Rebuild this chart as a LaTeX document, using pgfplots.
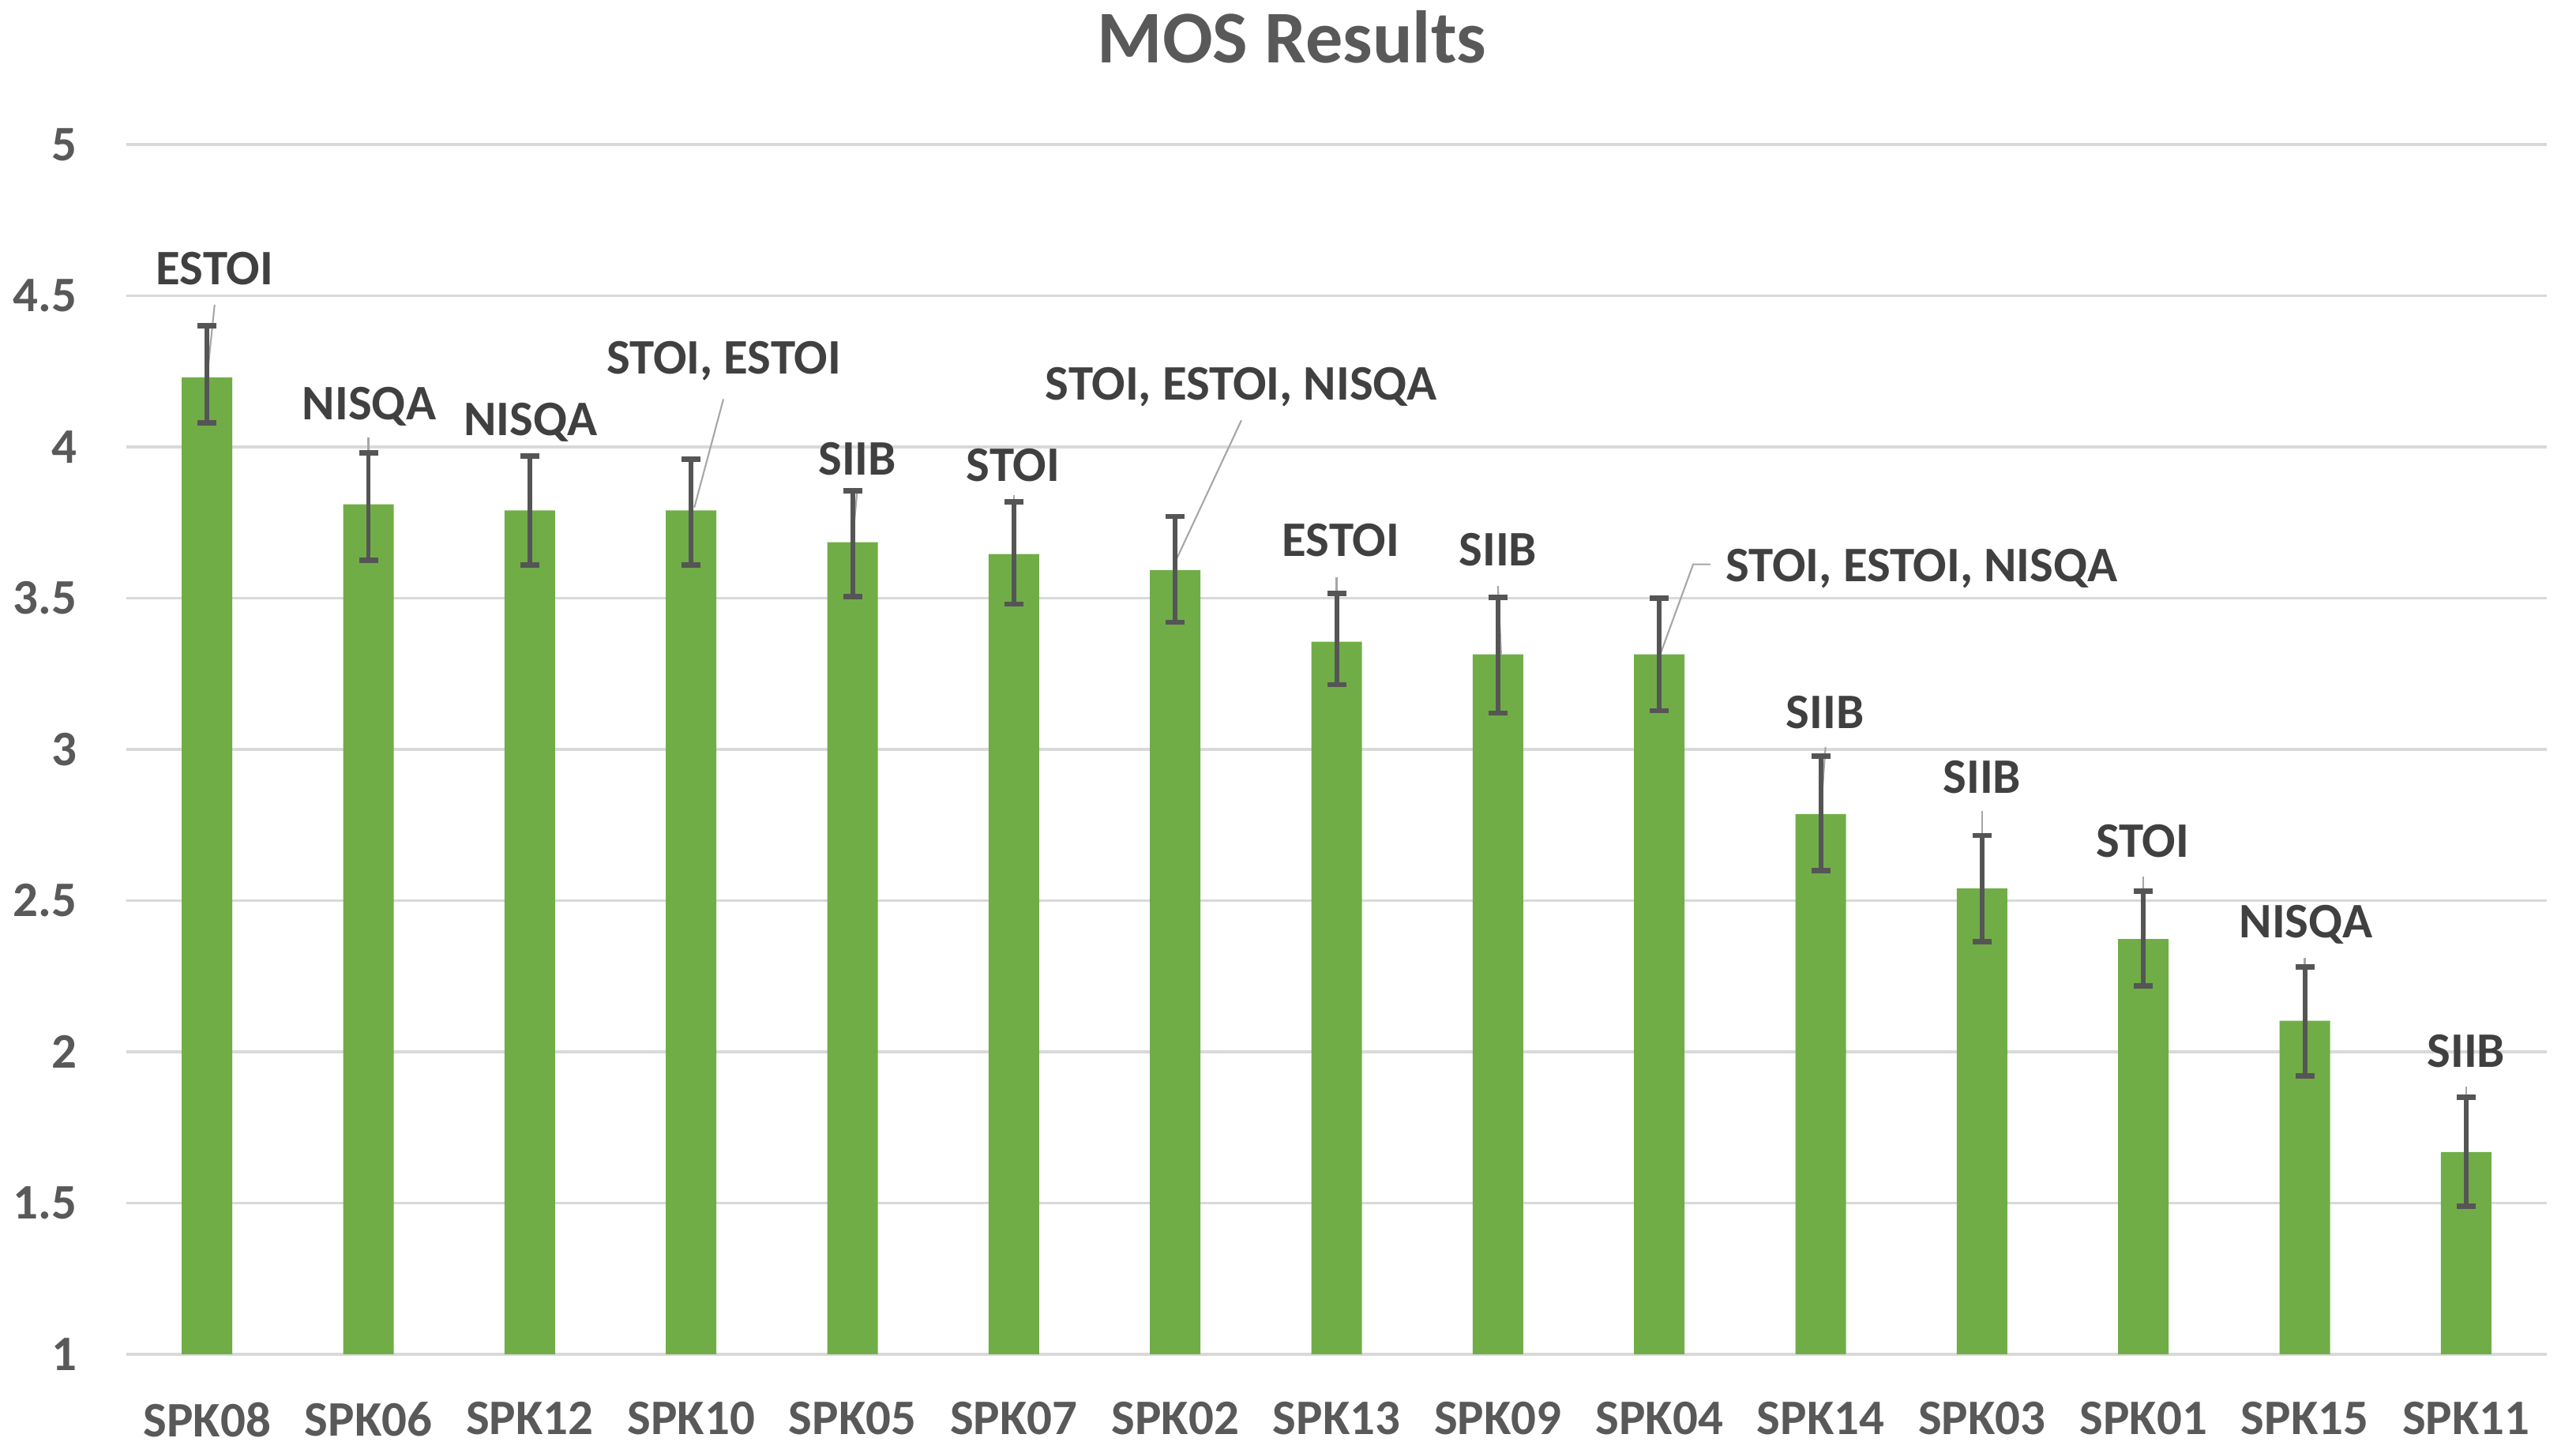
\documentclass[border=0pt]{standalone}
\usepackage{fontspec}
\setmainfont{Carlito}
\usepackage{pgfplots}
\usepackage{pgfplotstable}
\pgfplotsset{compat=1.18}
\definecolor{bargreen}{HTML}{70AD47}
\definecolor{tickgray}{HTML}{595959}
\definecolor{labgray}{HTML}{404040}
\definecolor{gridgray}{HTML}{D9D9D9}
\definecolor{errgray}{HTML}{555555}
\definecolor{leadgray}{HTML}{A6A6A6}
\newcommand\lbl{\fontsize{17.9}{21}\selectfont\bfseries}

\pgfplotstableread{
x y ep em
0 4.23 0.17 0.15
1 3.81 0.17 0.185
2 3.79 0.18 0.18
3 3.79 0.17 0.18
4 3.685 0.17 0.18
5 3.646 0.172 0.166
6 3.593 0.177 0.173
7 3.356 0.159 0.142
8 3.314 0.188 0.194
9 3.314 0.186 0.186
10 2.786 0.191 0.186
11 2.54 0.175 0.175
12 2.373 0.159 0.155
13 2.103 0.178 0.183
14 1.669 0.181 0.179
}\mosdata

\begin{document}
\begin{tikzpicture}
\useasboundingbox (0,0) rectangle (32.62,18.40);
\node[anchor=base, text=tickgray, font=\fontsize{26.8}{31}\selectfont\bfseries] at (16.36,17.60) {MOS Results};
\begin{axis}[
  at={(1.60cm,1.25cm)}, anchor=south west,
  scale only axis,
  width=30.65cm, height=15.32cm,
  xmin=-0.5, xmax=14.5,
  ymin=1, ymax=5,
  ytick={1,1.5,2,2.5,3,3.5,4,4.5,5},
  xtick={0,...,14},
  xticklabels={SPK08,SPK06,SPK12,SPK10,SPK05,SPK07,SPK02,SPK13,SPK09,SPK04,SPK14,SPK03,SPK01,SPK15,SPK11},
  ymajorgrids,
  grid style={draw=gridgray, line width=1.1pt},
  axis line style={draw=none},
  major tick length=0pt,
  tick style={draw=none},
  /pgf/number format/assume math mode=true,
  ticklabel style={font=\lbl, text=tickgray},
  xticklabel style={anchor=north, inner sep=0pt, yshift=-0.60cm},
  yticklabel style={anchor=east, inner sep=0pt, xshift=-0.62cm},
  clip=false,
]
\addplot[ybar, bar width=0.64cm, fill=bargreen, draw=none] table[x=x, y=y] {\mosdata};

% leader lines
\draw[leadgray, line width=0.6pt] (axis cs:0.047,4.47) -- (axis cs:0.0,4.23);
\draw[leadgray, line width=0.6pt] (axis cs:1.0,4.03) -- (axis cs:1.0,3.81);
\draw[leadgray, line width=0.6pt] (axis cs:2.0,3.98) -- (axis cs:2.0,3.79);
\draw[leadgray, line width=0.6pt] (axis cs:3.2,4.158) -- (axis cs:3.02,3.80);
\draw[leadgray, line width=0.6pt] (axis cs:4.03,3.86) -- (axis cs:4.0,3.685);
\draw[leadgray, line width=0.6pt] (axis cs:5.0,3.84) -- (axis cs:5.0,3.646);
\draw[leadgray, line width=0.6pt] (axis cs:6.41,4.088) -- (axis cs:6.0,3.62);
\draw[leadgray, line width=0.6pt] (axis cs:7.0,3.57) -- (axis cs:7.0,3.356);
\draw[leadgray, line width=0.6pt] (axis cs:8.0,3.54) -- (axis cs:8.02,3.314);
\draw[leadgray, line width=0.6pt] (axis cs:9.01,3.32) -- (axis cs:9.21,3.612) -- (axis cs:9.317,3.612);
\draw[leadgray, line width=0.6pt] (axis cs:10.03,3.008) -- (axis cs:10.0,2.786);
\draw[leadgray, line width=0.6pt] (axis cs:11.0,2.796) -- (axis cs:11.0,2.54);
\draw[leadgray, line width=0.6pt] (axis cs:12.0,2.58) -- (axis cs:12.0,2.373);
\draw[leadgray, line width=0.6pt] (axis cs:13.0,2.31) -- (axis cs:13.0,2.103);
\draw[leadgray, line width=0.6pt] (axis cs:14.0,1.886) -- (axis cs:14.0,1.669);

\addplot[draw=none, mark=none, forget plot,
  error bars/.cd, y dir=both, y explicit,
  error mark=|,
  error bar style={draw=errgray, line width=1.7pt},
  error mark options={draw=errgray, line width=1.9pt, mark size=0.12cm}]
  table[x=x, y=y, y error plus=ep, y error minus=em] {\mosdata};

% data labels
\begin{scope}[every node/.style={font=\lbl, text=labgray, inner sep=0pt}]
\node[anchor=base] at (axis cs:0.047,4.537) {ESTOI};
\node[anchor=base] at (axis cs:1.005,4.09) {NISQA};
\node[anchor=base] at (axis cs:2.004,4.038) {NISQA};
\node[anchor=base] at (axis cs:3.203,4.242) {STOI, ESTOI};
\node[anchor=base] at (axis cs:4.03,3.907) {SIIB};
\node[anchor=base] at (axis cs:4.995,3.886) {STOI};
\node[anchor=base] at (axis cs:6.41,4.156) {STOI, ESTOI, NISQA};
\node[anchor=base] at (axis cs:7.026,3.638) {ESTOI};
\node[anchor=base] at (axis cs:8.0,3.607) {SIIB};
\node[anchor=base west] at (axis cs:9.41,3.554) {STOI, ESTOI, NISQA};
\node[anchor=base] at (axis cs:10.027,3.068) {SIIB};
\node[anchor=base] at (axis cs:11.0,2.856) {SIIB};
\node[anchor=base] at (axis cs:11.995,2.644) {STOI};
\node[anchor=base] at (axis cs:13.008,2.378) {NISQA};
\node[anchor=base] at (axis cs:14.0,1.949) {SIIB};
\end{scope}
\end{axis}
\end{tikzpicture}
\end{document}
